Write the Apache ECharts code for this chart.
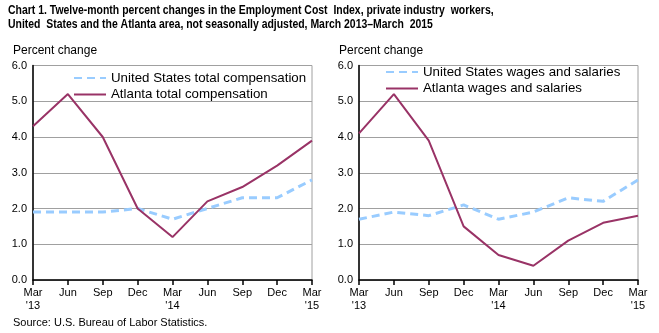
<!DOCTYPE html>
<html>
<head>
<meta charset="utf-8">
<script src="https://cdn.jsdelivr.net/npm/echarts@6/dist/echarts.min.js"></script>
<style>
  html, body { margin: 0; padding: 0; background: #fff; }
  #chart { width: 659px; height: 333px; }
</style>
</head>
<body>
<div id="chart"></div>
<script>
// Quarterly periods, March 2013 to March 2015
const quarters = ["Mar\n'13", "Jun", "Sep", "Dec", "Mar\n'14", "Jun", "Sep", "Dec", "Mar\n'15"];

// Twelve-month percent changes, total compensation
const usTotalComp = [1.9, 1.9, 1.9, 2.0, 1.7, 2.0, 2.3, 2.3, 2.8];
const atlTotalComp = [4.3, 5.2, 4.0, 2.0, 1.2, 2.2, 2.6, 3.2, 3.9];

// Twelve-month percent changes, wages and salaries
const usWages = [1.7, 1.9, 1.8, 2.1, 1.7, 1.9, 2.3, 2.2, 2.8];
const atlWages = [4.1, 5.2, 3.9, 1.5, 0.7, 0.4, 1.1, 1.6, 1.8];

const yTicks = { min: 0, max: 6, interval: 1 };

const US_COLOR = '#99ccff';
const ATL_COLOR = '#993366';
const FONT = 'Liberation Sans, Arial, sans-serif';

const chart = echarts.init(document.getElementById('chart'), null, { renderer: 'canvas' });

function xAxis(gridIndex) {
  return {
    type: 'category',
    gridIndex,
    data: quarters,
    boundaryGap: false,
    axisLine: { show: true, lineStyle: { color: '#000', width: 1.5 } },
    axisTick: { show: true, length: 5, lineStyle: { color: '#000', width: 1.5 }, alignWithLabel: true },
    axisLabel: { color: '#000', fontFamily: FONT, fontSize: 11, margin: 6, lineHeight: 13, interval: 0 },
    splitLine: { show: false }
  };
}

function yAxis(gridIndex) {
  return {
    type: 'value',
    gridIndex,
    min: yTicks.min,
    max: yTicks.max,
    interval: yTicks.interval,
    axisLine: { show: true, lineStyle: { color: '#000', width: 1.5 } },
    axisTick: { show: false },
    axisLabel: { color: '#000', fontFamily: FONT, fontSize: 11, margin: 6, formatter: v => v.toFixed(1) },
    splitLine: { show: true, lineStyle: { color: '#a0a0a0', width: 1 } }
  };
}

function lineSeries(name, data, idx, dashed) {
  return {
    name,
    type: 'line',
    xAxisIndex: idx,
    yAxisIndex: idx,
    data,
    symbol: 'none',
    smooth: false,
    lineStyle: dashed
      ? { color: US_COLOR, width: 3, type: [8, 5] }
      : { color: ATL_COLOR, width: 2 },
    itemStyle: { color: dashed ? US_COLOR : ATL_COLOR },
    z: dashed ? 2 : 3
  };
}

// Legend keys show only the line sample; the marker is hidden
function legend(left, top, names) {
  return {
    left, top,
    padding: 0,
    orient: 'vertical',
    itemWidth: 32,
    itemHeight: 12,
    itemGap: 3.5,
    itemStyle: { opacity: 0 },
    data: names,
    textStyle: { color: '#000', fontFamily: FONT, fontSize: 13.3, padding: [0, 0, 0, 0] },
    selectedMode: false
  };
}

chart.setOption({
  animation: false,
  backgroundColor: '#fff',
  graphic: [
    {
      type: 'text',
      x: 8, y: 3.5,
      scaleX: 0.78,
      style: {
        text: 'Chart 1. Twelve-month percent changes in the Employment Cost  Index, private industry  workers,\nUnited  States and the Atlanta area, not seasonally adjusted, March 2013\u2013March  2015',
        fontFamily: FONT, fontWeight: 'bold', fontSize: 13.4, lineHeight: 14,
        fill: '#000', verticalAlign: 'top'
      }
    }
  ],
  title: [
    {
      text: 'Percent change', left: 8, top: 40,
      textStyle: { fontFamily: FONT, fontWeight: 'normal', fontSize: 12, color: '#000' }
    },
    {
      text: 'Percent change', left: 334, top: 40,
      textStyle: { fontFamily: FONT, fontWeight: 'normal', fontSize: 12, color: '#000' }
    },
    {
      text: 'Source: U.S. Bureau of Labor Statistics.', left: 8, top: 312,
      textStyle: { fontFamily: FONT, fontWeight: 'normal', fontSize: 11, color: '#000' }
    }
  ],
  legend: [
    legend(73, 71.5, ['United States total compensation', 'Atlanta total compensation']),
    legend(385, 65.5, ['United States wages and salaries', 'Atlanta wages and salaries'])
  ],
  grid: [
    { left: 33, right: 347, top: 65.5, bottom: 53, show: true, borderColor: '#a0a0a0', borderWidth: 1 },
    { left: 359, right: 21, top: 65.5, bottom: 53, show: true, borderColor: '#a0a0a0', borderWidth: 1 }
  ],
  xAxis: [xAxis(0), xAxis(1)],
  yAxis: [yAxis(0), yAxis(1)],
  series: [
    lineSeries('United States total compensation', usTotalComp, 0, true),
    lineSeries('Atlanta total compensation', atlTotalComp, 0, false),
    lineSeries('United States wages and salaries', usWages, 1, true),
    lineSeries('Atlanta wages and salaries', atlWages, 1, false)
  ]
});
</script>
</body>
</html>
